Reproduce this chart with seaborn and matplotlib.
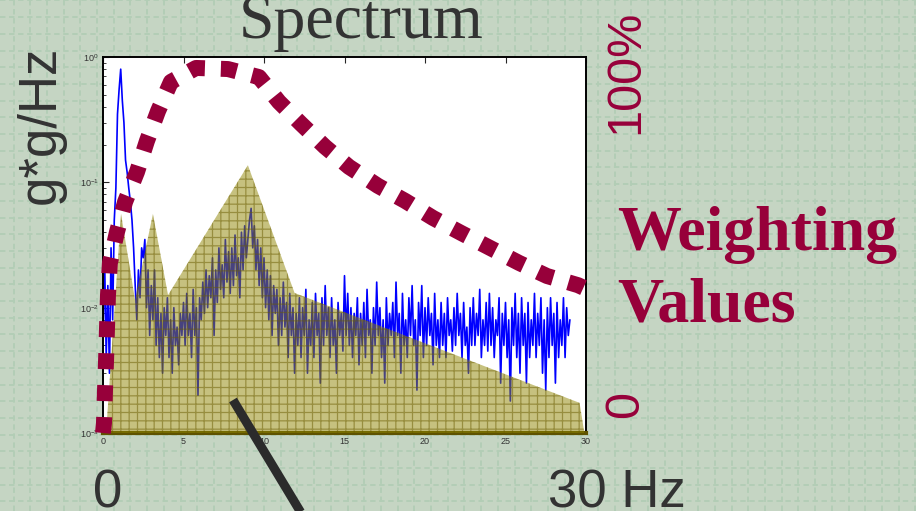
import numpy as np
import matplotlib
matplotlib.use("Agg")
import matplotlib.pyplot as plt
import seaborn as sns
from matplotlib.lines import Line2D

sns.set_style("white")
plt.rcParams['font.family'] = ['Liberation Sans', 'DejaVu Sans']
plt.rcParams['hatch.linewidth'] = 0.9

# measured spectrum (g*g/Hz), one value every 0.1 Hz from 0 to 29 Hz
spec_hz = [i / 10 for i in range(291)]
spec_val = [
    0.006, 0.025, 0.004, 0.015, 0.003, 0.03, 0.008, 0.05, 0.09, 0.35,
    0.55, 0.8, 0.45, 0.3, 0.15, 0.12, 0.09, 0.07, 0.05, 0.03,
    0.015, 0.008, 0.02, 0.012, 0.03, 0.025, 0.035, 0.01, 0.02, 0.006,
    0.015, 0.008, 0.02, 0.005, 0.012, 0.004, 0.009, 0.003, 0.01, 0.006,
    0.012, 0.004, 0.008, 0.003, 0.01, 0.005, 0.007, 0.0035, 0.009, 0.006,
    0.011, 0.005, 0.013, 0.006, 0.009, 0.004, 0.014, 0.006, 0.01, 0.002,
    0.012, 0.008, 0.016, 0.009, 0.02, 0.01, 0.018, 0.012, 0.025, 0.006,
    0.02, 0.011, 0.03, 0.014, 0.022, 0.012, 0.035, 0.016, 0.028, 0.013,
    0.03, 0.015, 0.038, 0.018, 0.025, 0.012, 0.04, 0.02, 0.045, 0.025,
    0.035, 0.05, 0.062, 0.03, 0.045, 0.02, 0.035, 0.015, 0.03, 0.012,
    0.025, 0.01, 0.02, 0.008, 0.018, 0.006, 0.015, 0.009, 0.014, 0.005,
    0.012, 0.006, 0.016, 0.007, 0.011, 0.004, 0.013, 0.006, 0.01, 0.003,
    0.009, 0.005, 0.012, 0.004, 0.01, 0.006, 0.014, 0.003, 0.008, 0.005,
    0.011, 0.004, 0.013, 0.006, 0.009, 0.0025, 0.012, 0.005, 0.015, 0.006,
    0.01, 0.004, 0.012, 0.005, 0.008, 0.003, 0.011, 0.006, 0.009, 0.0045,
    0.018, 0.006, 0.013, 0.005, 0.01, 0.004, 0.009, 0.006, 0.012, 0.0035,
    0.009, 0.005, 0.011, 0.004, 0.014, 0.006, 0.008, 0.003, 0.01, 0.005,
    0.016, 0.006, 0.01, 0.004, 0.008, 0.0025, 0.012, 0.005, 0.009, 0.006,
    0.011, 0.004, 0.016, 0.006, 0.009, 0.003, 0.013, 0.005, 0.008, 0.004,
    0.012, 0.006, 0.015, 0.005, 0.008, 0.0022, 0.011, 0.006, 0.015, 0.004,
    0.01, 0.005, 0.012, 0.006, 0.009, 0.0035, 0.013, 0.005, 0.008, 0.004,
    0.011, 0.005, 0.009, 0.004, 0.012, 0.006, 0.008, 0.0045, 0.01, 0.005,
    0.013, 0.006, 0.009, 0.004, 0.011, 0.005, 0.007, 0.003, 0.01, 0.005,
    0.012, 0.005, 0.009, 0.006, 0.014, 0.004, 0.008, 0.005, 0.011, 0.0045,
    0.013, 0.005, 0.01, 0.004, 0.008, 0.006, 0.012, 0.0025, 0.009, 0.005,
    0.011, 0.004, 0.008, 0.0018, 0.01, 0.005, 0.013, 0.004, 0.009, 0.003,
    0.012, 0.005, 0.009, 0.0025, 0.011, 0.004, 0.008, 0.005, 0.013, 0.004,
    0.009, 0.005, 0.012, 0.003, 0.008, 0.0022, 0.01, 0.004, 0.012, 0.005,
    0.009, 0.0025, 0.011, 0.004, 0.008, 0.005, 0.012, 0.004, 0.01, 0.006,
    0.008,
]

# test envelope (olive area)
env_hz = [0.19, 1.12, 1.99, 3.1, 4.04, 9.0, 11.9, 29.6, 29.9]
env_val = [0.001, 0.056, 0.0115, 0.056, 0.0126, 0.137, 0.0131, 0.00174, 0.001]

# weighting curve (fraction of 100%)
w_hz = [0.0, 0.06, 0.12, 0.19, 0.25, 0.31, 0.43, 0.87, 1.37, 2.11, 2.73, 3.42,
        4.22, 5.78, 7.76, 9.69, 10.93, 12.3, 13.79, 15.28, 17.08, 18.76, 20.5,
        22.24, 24.04, 25.84, 27.58, 29.5, 30.0]
w_val = [0.0, 0.027, 0.112, 0.2, 0.29, 0.378, 0.466, 0.551, 0.633, 0.715, 0.8,
         0.882, 0.962, 1.0, 0.997, 0.975, 0.907, 0.847, 0.784, 0.729, 0.677,
         0.636, 0.589, 0.548, 0.507, 0.466, 0.43, 0.405, 0.395]

W, H = 916, 511
fig = plt.figure(figsize=(W / 100, H / 100), dpi=100)
fig.patch.set_facecolor('#c5d5c3')

# slide background with its faint grid
bg = fig.add_axes([0, 0, 1, 1], zorder=-10)
bg.set_facecolor('#c5d5c3')
bg.set_xlim(0, W)
bg.set_ylim(H, 0)
bg.set_xticks(np.arange(13.5, W, 16.7))
bg.set_yticks(np.arange(0.5, H, 16.7))
bg.grid(True, color='#b2cdb5', lw=1.3, ls=(0, (3, 2)))
bg.tick_params(length=0, labelbottom=False, labelleft=False)
for s in bg.spines.values():
    s.set_visible(False)

ax = fig.add_axes([103 / W, 1 - 433 / H, 483 / W, 376 / H])
ax.set_facecolor('white')
sns.lineplot(x=spec_hz, y=spec_val, ax=ax, color='#0000ff', lw=1.2, zorder=2)
ax.fill_between(env_hz, env_val, 0.001, facecolor='#8f8500', edgecolor='#6a5c00',
                hatch='++', alpha=0.5, lw=0, zorder=3)
ax.set_yscale('log')
ax.set_xlim(0, 30)
ax.set_ylim(1e-3, 1)
ax.set_xticks([0, 5, 10, 15, 20, 25, 30])
ax.tick_params(which='both', direction='in', top=True, right=True,
               labelsize=6.5, labelcolor='#333333', pad=3)
ax.tick_params(which='major', length=4, width=0.8)
ax.tick_params(which='minor', length=2.5, width=0.6)
for s in ax.spines.values():
    s.set_linewidth(1.4)
    s.set_color('black')
ax.spines['bottom'].set_color('#5e5200')
ax.spines['bottom'].set_linewidth(3)
ax.set_xlabel('')
ax.set_ylabel('')

ax2 = ax.twinx()
sns.lineplot(x=w_hz, y=w_val, ax=ax2, color='#97003a', lw=11.5,
             ls=(0, (1, 1)), clip_on=False, zorder=5)
ax2.set_ylim(0, 1.03)
ax2.set_xlim(0, 30)
ax2.set_yticks([])
ax2.set_ylabel('')
for s in ax2.spines.values():
    s.set_visible(False)

# slide texts
bg.text(361, 38, 'Spectrum', fontsize=46, family='Liberation Serif',
        color='#333333', ha='center', va='baseline')
bg.text(41, 125, 'g*g/Hz', fontsize=38, rotation=90, color='#333333',
        ha='center', va='center')
bg.text(626, 72, '100%', fontsize=35, rotation=90, color='#97003a',
        ha='center', va='center')
bg.text(626, 405, '0', fontsize=35, rotation=90, color='#97003a',
        ha='center', va='center')
bg.text(617, 250, 'Weighting', fontsize=46, family='Liberation Serif',
        weight='bold', color='#97003a', ha='left', va='baseline')
bg.text(617, 322, 'Values', fontsize=46, family='Liberation Serif',
        weight='bold', color='#97003a', ha='left', va='baseline')
bg.text(108, 508, '0', fontsize=38, color='#333333', ha='center', va='baseline')
bg.text(617, 508, '30 Hz', fontsize=38, color='#333333', ha='center', va='baseline')

# pointer line
fig.add_artist(Line2D([233 / W, 303 / W], [1 - 400 / H, 1 - 516 / H],
                      color='#2b2b2b', lw=6.5, solid_capstyle='butt'))

fig.savefig('out.png', dpi=100, facecolor=fig.get_facecolor())
